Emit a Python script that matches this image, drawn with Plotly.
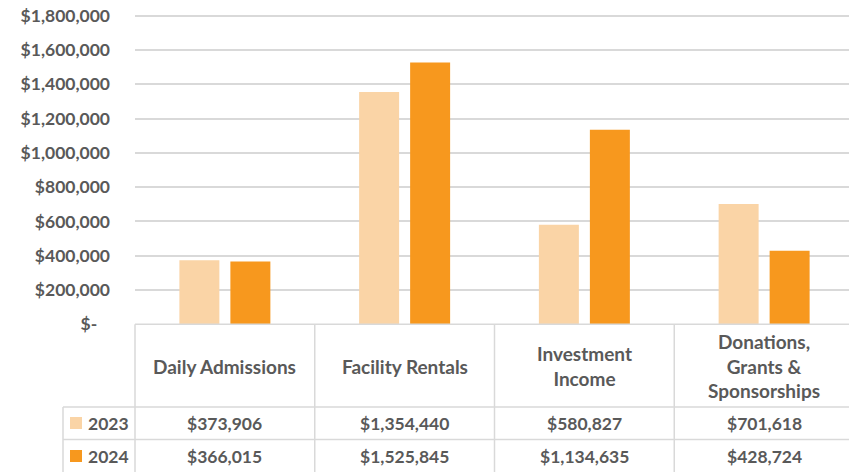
import plotly.graph_objects as go

# ---- data ----
categories = ["Daily Admissions", "Facility Rentals", "Investment<br>Income",
              "Donations,<br>Grants &<br>Sponsorships"]
series_names = ["2023", "2024"]
values_2023 = [373906, 1354440, 580827, 701618]
values_2024 = [366015, 1525845, 1134635, 428724]
tick_values = [0, 200000, 400000, 600000, 800000, 1000000, 1200000, 1400000, 1600000, 1800000]
tick_labels = ["$-\u00a0\u00a0\u00a0", "$200,000", "$400,000", "$600,000", "$800,000", "$1,000,000",
               "$1,200,000", "$1,400,000", "$1,600,000", "$1,800,000"]
y_max = 1820000

colors = ["#FAD4A6", "#F7981E"]
text_color = "#595959"
line_color = "#D9D9D9"
FONT = "Lato"

# page body has an 8px default margin: figure is drawn from (8, 8) of the window
OFF = 8
W, H = 857 - OFF, 472 - OFF


def px(x):
    return (x - OFF) / W


def py(y):
    return 1 - (y - OFF) / H


plot_left, plot_right = 135, 854
plot_bottom = 324.3
px_per_unit = (324.3 - 15.6) / 1800000
plot_top = plot_bottom - y_max * px_per_unit

fig = go.Figure()
for name, vals, col in zip(series_names, [values_2023, values_2024], colors):
    fig.add_trace(go.Bar(x=categories, y=vals, name=name, marker=dict(color=col, line=dict(width=0)),
                         showlegend=False, hoverinfo="skip"))

fig.update_layout(
    width=W, height=H, margin=dict(l=0, r=0, t=0, b=0, autoexpand=False),
    paper_bgcolor="white", plot_bgcolor="white",
    barmode="group", bargap=0.4325, bargroupgap=0.216,
    font=dict(family=FONT, color=text_color),
    xaxis=dict(domain=[px(plot_left), px(plot_right)], range=[-0.5, 3.5], showticklabels=False,
               showgrid=False, zeroline=False, showline=False, fixedrange=True, automargin=False),
    yaxis=dict(domain=[py(plot_bottom), py(plot_top)], range=[0, y_max], automargin=False,
               tickvals=tick_values, ticktext=tick_labels, showgrid=True, gridcolor=line_color,
               gridwidth=1.5, zeroline=False, showline=False, ticks="", ticklabelstandoff=24,
               ticklabeloverflow="allow",
               tickfont=dict(family=FONT, size=17.5, color=text_color, weight="bold")),
)

shapes = []


def hline(y, x0, x1):
    shapes.append(dict(type="line", xref="paper", yref="paper", x0=px(x0), x1=px(x1), y0=py(y), y1=py(y),
                       line=dict(color=line_color, width=1.5), layer="above"))


def vline(x, y0, y1):
    shapes.append(dict(type="line", xref="paper", yref="paper", x0=px(x), x1=px(x), y0=py(y0), y1=py(y1),
                       line=dict(color=line_color, width=1.5), layer="above"))


hline(324.3, plot_left, plot_right)
hline(407, 63, plot_right)
hline(439.5, 63, plot_right)
vline(63, 407, 472)
col_w = (plot_right - plot_left) / len(categories)
for i in range(len(categories) + 1):
    vline(plot_left + i * col_w, 324.3, 472)

annotations = []
for cat in categories:
    annotations.append(dict(x=cat, xref="x", y=py(366), yref="paper", text=cat, showarrow=False,
                            font=dict(family=FONT, size=19, color=text_color, weight="bold"),
                            align="center", xanchor="center", yanchor="middle"))

row_centers = [423, 456]
for name, vals, col, yc in zip(series_names, [values_2023, values_2024], colors, row_centers):
    for cat, v in zip(categories, vals):
        annotations.append(dict(x=cat, xref="x", y=py(yc), yref="paper", text=f"${v:,}", showarrow=False,
                                font=dict(family=FONT, size=17.5, color=text_color, weight="bold"),
                                xanchor="center", yanchor="middle"))
    shapes.append(dict(type="rect", xref="paper", yref="paper", x0=px(70), x1=px(82), y0=py(yc - 6),
                       y1=py(yc + 6), fillcolor=col, line=dict(width=0)))
    annotations.append(dict(x=px(86), xref="paper", y=py(yc), yref="paper", text=name, showarrow=False,
                            font=dict(family=FONT, size=17.5, color=text_color, weight="bold"),
                            xanchor="left", yanchor="middle"))

fig.update_layout(shapes=shapes, annotations=annotations)
fig.write_html("out.html")
